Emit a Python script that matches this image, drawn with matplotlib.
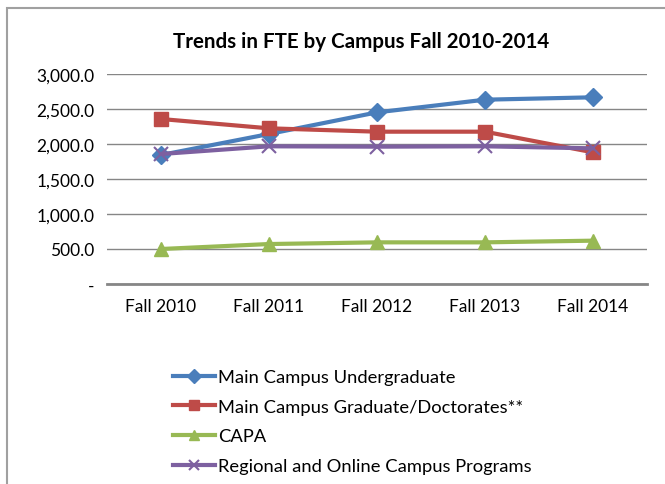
import matplotlib
matplotlib.use("Agg")
import matplotlib.pyplot as plt
from matplotlib.patches import Rectangle
from matplotlib.ticker import FuncFormatter

plt.rcParams['font.family'] = ['Lato', 'DejaVu Sans']

years = ["Fall 2010", "Fall 2011", "Fall 2012", "Fall 2013", "Fall 2014"]
main_ug = [1843, 2143, 2452, 2633, 2667]
main_grad = [2357, 2224, 2176, 2176, 1881]
capa = [500, 571, 595, 595, 619]
regional = [1857, 1967, 1962, 1967, 1938]

series = [
    ("Main Campus Undergraduate", main_ug, "#4A7EBB", "D", 9),
    ("Main Campus Graduate/Doctorates**", main_grad, "#BE4B48", "s", 10),
    ("CAPA", capa, "#98B954", "^", 10),
    ("Regional and Online Campus Programs", regional, "#7D60A0", "x", 10),
]

fig = plt.figure(figsize=(6.65, 4.85), dpi=100)
ax = fig.add_axes([107 / 665, 1 - 285 / 485, 540 / 665, 210 / 485])

x = range(len(years))
handles = []
for label, vals, color, marker, ms in series:
    mew = 1.5 if marker == "x" else 1
    h, = ax.plot(x, vals, color=color, lw=3, marker=marker, markersize=ms,
                 markeredgewidth=mew, label=label, zorder=3)
    handles.append(h)

ax.set_xlim(-0.5, len(years) - 0.5)
ax.set_ylim(0, 3000)
ax.set_yticks([0, 500, 1000, 1500, 2000, 2500, 3000])
ax.yaxis.set_major_formatter(FuncFormatter(lambda v, p: "-" if v == 0 else f"{v:,.1f}"))
ax.set_xticks(list(x))
ax.set_xticklabels(years)
ax.tick_params(axis='both', length=0, labelsize=12.5)
ax.tick_params(axis='y', pad=9)
ax.tick_params(axis='x', pad=10)
ax.grid(axis='y', color="#868686", lw=1)
ax.set_axisbelow(True)
for s in ["top", "right", "left"]:
    ax.spines[s].set_visible(False)
ax.spines["bottom"].set_color("#868686")
ax.spines["bottom"].set_linewidth(2)

fig.text(361 / 665, 1 - 42 / 485, "Trends in FTE by Campus Fall 2010-2014",
         ha="center", va="center", fontsize=14.8, fontweight="bold")

fig.legend(handles=handles, loc="upper left", bbox_to_anchor=(173 / 665, 1 - 370 / 485),
           frameon=False, fontsize=13.2, handlelength=2.3, handletextpad=0.15,
           labelspacing=0.75, borderpad=0, borderaxespad=0, markerscale=0.75)

fig.patches.append(Rectangle((7 / 665, -0.2), 1.2, 1.2 - 9 / 485,
                             transform=fig.transFigure, fill=False,
                             edgecolor="#A0A0A0", lw=1.5))

plt.savefig("out.png", dpi=100)
plt.close()
